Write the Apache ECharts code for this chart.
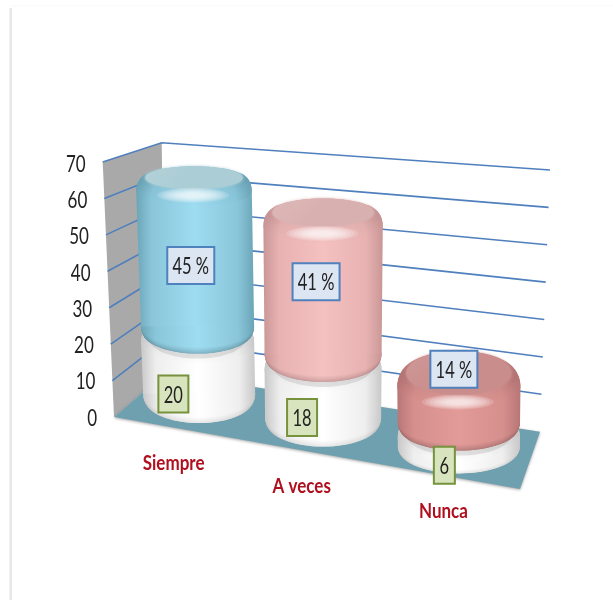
<!DOCTYPE html>
<html>
<head>
<meta charset="utf-8">
<style>html,body{margin:0;padding:0;background:#fff}#chart{width:613px;height:602px}</style>
<script src="https://cdn.jsdelivr.net/npm/echarts@6/dist/echarts.min.js"></script>
</head>
<body>
<div id="chart"></div>
<script>
// Survey answers: a white count cylinder with a coloured percentage cylinder on top.
const categories = ['Siempre', 'A veces', 'Nunca'];
const countValues = [20, 18, 6];
const percentValues = [45, 41, 14];
const axisTicks = [0, 10, 20, 30, 40, 50, 60, 70];

// Perspective box of the chart, in page pixels.
const GRID = { left: 114, top: 163, width: 406, height: 254 };
const FLOOR = [[114, 417], [520, 489], [540, 431.7], [165, 373]];
const FRONT_LEFT_TOP = [102.7, 162];
const BACK_LEFT_TOP = [161.7, 142.7];
const BACK_RIGHT_TOP = [550, 170];

// Per-cylinder drawing settings: foreshortening, lean, radius, base nudge, ellipse taper,
// top-face flattening and where the rim highlight sits.
const CYL = [
  { k: 0.928, lean: -0.08, a: 56, nudge: [1, -2], bk: 0.108, face: 0.82, glint: -4 },
  { k: 0.97, lean: 0, a: 58, nudge: [1.5, 1], bk: 0.07, face: 0.85, glint: -3.4 },
  { k: 1.015, lean: 0, a: 61, nudge: [1.5, 5], bk: 0.1, face: 1.2, glint: 2.5 }
];
const WHITE = { edge: '#c8c8c8', soft: '#eeeeee', mid: '#ffffff', face: '#f4f4f4', low: 0.1 };
const PALETTES = [
  { edge: '#6ba4b7', soft: '#8ac6da', mid: '#9edcf1', face: '#abcdd5', low: 0.2 },
  { edge: '#c99696', soft: '#e8b2b2', mid: '#f5c0c0', face: '#d9b0b0', low: 0.18 },
  { edge: '#b87676', soft: '#d58f8d', mid: '#e39b99', face: '#c98d8b', low: 0.2 }
];
// Label box offsets from each cylinder's mid-height, and their widths.
const COUNT_BOX = [{ dx: -25, dy: 26, w: 30 }, { dx: -21, dy: 24, w: 30 }, { dx: -14.5, dy: 24.5, w: 21 }];
const PCT_BOX = [{ dx: -5, dy: 7, w: 47 }, { dx: -7, dy: -8, w: 47 }, { dx: -5, dy: -34.6, w: 47 }];
const TEXT_FONT = 'Lato, "Open Sans", sans-serif';

// Unit square to floor quad homography.
function makeHomography(q) {
  const [x0, y0] = q[0], [x1, y1] = q[1], [x2, y2] = q[2], [x3, y3] = q[3];
  const dx1 = x1 - x2, dx2 = x3 - x2, sx = x0 - x1 + x2 - x3;
  const dy1 = y1 - y2, dy2 = y3 - y2, sy = y0 - y1 + y2 - y3;
  const det = dx1 * dy2 - dx2 * dy1;
  const g = (sx * dy2 - dx2 * sy) / det, h = (dx1 * sy - sx * dy1) / det;
  const a = x1 - x0 + g * x1, b = x3 - x0 + h * x3;
  const d = y1 - y0 + g * y1, e = y3 - y0 + h * y3;
  return (u, v) => {
    const w = g * u + h * v + 1;
    return [(a * u + b * v + x0) / w, (d * u + e * v + y0) / w];
  };
}
const floorPoint = makeHomography(FLOOR);
const lerp = (p, q, t) => [p[0] + (q[0] - p[0]) * t, p[1] + (q[1] - p[1]) * t];

function mix(hex, target, f) {
  const n = parseInt(hex.slice(1), 16);
  const c = [(n >> 16) & 255, (n >> 8) & 255, n & 255];
  return 'rgb(' + c.map(v => Math.round(v + (target - v) * f)).join(',') + ')';
}
function sideFill(p, shade) {
  const s = c => shade < 0 ? mix(c, 0, -shade) : mix(c, 255, shade);
  return {
    type: 'linear', x: 0, y: 0, x2: 1, y2: 0,
    colorStops: [
      { offset: 0, color: s(p.edge) }, { offset: 0.13, color: s(p.soft) },
      { offset: 0.5, color: s(p.mid) }, { offset: 0.86, color: s(p.soft) },
      { offset: 1, color: s(p.edge) }
    ]
  };
}
function ellipse(cx, cy, rx, ry, fill, extra) {
  return { type: 'ellipse', shape: { cx, cy, rx, ry }, style: Object.assign({ fill }, extra || {}) };
}

// Centre of a cylinder's cross-section at a given value.
function cylinderCentre(api, params, i, value) {
  const rect = params.coordSys;
  const p0 = api.coord([i, 0]), pv = api.coord([i, value]);
  const base = floorPoint((p0[0] - rect.x) / rect.width, 0.5);
  const c = CYL[i];
  return [base[0] + c.nudge[0] + c.lean * value, base[1] + c.nudge[1] - (p0[1] - pv[1]) * c.k];
}
function radii(i, value) {
  const c = CYL[i];
  return { a: c.a * (1 + value * 0.0005), b: 23.5 - c.bk * value };
}

// A round-edged cylinder between two values, built from stacked elliptical slices.
function drawCylinder(api, params, i, from, to, pal, rimShade) {
  const c0 = cylinderCentre(api, params, i, from), c1 = cylinderCentre(api, params, i, to);
  const r0 = radii(i, from), r1 = radii(i, to), cfg = CYL[i];
  const kids = [];
  const rb = 9, vb = Math.min(8, (c0[1] - c1[1]) * 0.25), N = 8;
  for (let k = 0; k <= N; k++) {
    const h = k / N, inset = rb * (1 - Math.sqrt(1 - (1 - h) * (1 - h))) * 0.6;
    const rx = r0.a - inset;
    kids.push(ellipse(c0[0], c0[1] - vb * h, rx, r0.b * rx / r0.a, sideFill(pal, -pal.low * (1 - h))));
  }
  const yb = c0[1] - vb, yt = c1[1] + 8;
  kids.push({
    type: 'polygon',
    shape: { points: [[c0[0] - r0.a, yb], [c1[0] - r1.a, yt], [c1[0] + r1.a, yt], [c0[0] + r0.a, yb]] },
    style: { fill: sideFill(pal, 0) }
  });
  for (let k = 0; k <= N; k++) {
    const h = k / N, inset = rb * (1 - Math.sqrt(1 - h * h));
    const rx = r1.a - inset;
    kids.push(ellipse(c1[0], yt - 13 * h, rx, r1.b * rx / r1.a * (1 - (1 - cfg.face) * h), sideFill(pal, rimShade * h)));
  }
  const faceX = r1.a - rb, faceY = c1[1] - 5, faceR = r1.b * faceX / r1.a * cfg.face;
  kids.push(ellipse(c1[0], faceY, faceX, faceR, {
    type: 'linear', x: 0, y: 0, x2: 0.3, y2: 1,
    colorStops: [{ offset: 0, color: mix(pal.face, 255, 0.1) }, { offset: 1, color: pal.face }]
  }, { shadowBlur: 3, shadowColor: pal.face }));
  // Soft glint on the front of the rim, from nested translucent ellipses.
  const gy = c1[1] + r1.b + cfg.glint;
  for (let k = 0; k < 7; k++) {
    const s = 1 - k / 7;
    kids.push(ellipse(c1[0] - 1, gy, 10 + 26 * s, 1.5 + 6 * s, 'rgba(255,255,255,0.17)'));
  }
  return kids;
}

const option = {
  animation: false,
  backgroundColor: '#ffffff',
  graphic: [
    { type: 'rect', shape: { x: 9.5, y: 8, width: 2.5, height: 592 }, style: { fill: '#e7e7e7' }, silent: true },
    { type: 'rect', shape: { x: 11, y: 5, width: 602, height: 1.5 }, style: { fill: '#fbfbfb' }, silent: true }
  ],
  grid: { left: GRID.left, top: GRID.top, width: GRID.width, height: GRID.height },
  xAxis: { type: 'category', data: categories, show: false },
  yAxis: { type: 'value', min: 0, max: 70, interval: 10, show: false },
  series: [
    // Left wall and floor of the box.
    {
      type: 'custom', coordinateSystem: 'cartesian2d', z: 1, silent: true, clip: false,
      data: [[0, 0]],
      renderItem() {
        return {
          type: 'group',
          children: [
            { type: 'polygon', shape: { points: [FLOOR[0], FRONT_LEFT_TOP, BACK_LEFT_TOP, FLOOR[3]] },
              style: { fill: '#a9a9a9' } },
            { type: 'polygon', shape: { points: FLOOR },
              style: { fill: '#6fa0af', shadowBlur: 3, shadowColor: 'rgba(0,0,0,0.35)', shadowOffsetY: 1 } }
          ]
        };
      }
    },
    // Gridlines running along the left wall and back wall.
    {
      type: 'custom', coordinateSystem: 'cartesian2d', z: 2, silent: true, clip: false,
      data: axisTicks.filter(v => v > 0).map(v => [0, v]),
      renderItem(params, api) {
        const rect = params.coordSys;
        const t = (rect.y + rect.height - api.coord([0, api.value(1)])[1]) / rect.height;
        const a = lerp(FLOOR[0], FRONT_LEFT_TOP, t);
        const b = lerp(FLOOR[3], BACK_LEFT_TOP, t);
        const c = lerp(FLOOR[2], BACK_RIGHT_TOP, t);
        return {
          type: 'polyline', shape: { points: [a, b, c] },
          style: { fill: null, stroke: '#4f7fbd', lineWidth: 1.6 }
        };
      }
    },
    // Value axis numbers, set along the slanted front edge of the wall.
    {
      type: 'custom', coordinateSystem: 'cartesian2d', z: 3, silent: true, clip: false,
      data: axisTicks.map(v => [0, v]),
      renderItem(params, api) {
        const rect = params.coordSys;
        const y = api.coord([0, api.value(1)])[1];
        const t = (rect.y + rect.height - y) / rect.height;
        const p = lerp(FLOOR[0], FRONT_LEFT_TOP, t);
        return {
          type: 'text', x: p[0] - 17, y: y + 1, scaleY: 1.4,
          style: {
            text: String(api.value(1)), align: 'right', verticalAlign: 'middle',
            font: '17px ' + TEXT_FONT, fill: '#222222'
          }
        };
      }
    },
    // White count cylinders.
    {
      type: 'custom', name: 'Count', coordinateSystem: 'cartesian2d', z: 4, silent: true, clip: false,
      data: countValues.map((v, i) => [i, v]),
      renderItem(params, api) {
        const i = api.value(0);
        return { type: 'group', children: drawCylinder(api, params, i, 0, api.value(1), WHITE, 0) };
      }
    },
    // Coloured percentage cylinders stacked on the white ones.
    {
      type: 'custom', name: 'Percent', coordinateSystem: 'cartesian2d', z: 5, silent: true, clip: false,
      data: percentValues.map((v, i) => [i, countValues[i], countValues[i] + v]),
      renderItem(params, api) {
        const i = api.value(0), from = api.value(1), to = api.value(2);
        const c0 = cylinderCentre(api, params, i, from), r0 = radii(i, from);
        const shadow = ellipse(c0[0], c0[1] + 4, r0.a - 8, r0.b - 1, 'rgba(70,70,70,0.14)', {
          shadowBlur: 9, shadowColor: 'rgba(50,50,50,0.28)'
        });
        return {
          type: 'group',
          children: [shadow].concat(drawCylinder(api, params, i, from, to, PALETTES[i], -0.03))
        };
      }
    },
    // Category names below the front edge of the floor.
    {
      type: 'custom', coordinateSystem: 'cartesian2d', z: 6, silent: true, clip: false,
      data: categories.map((c, i) => [i, 0]),
      renderItem(params, api) {
        const i = api.value(0), rect = params.coordSys;
        const p = floorPoint((api.coord([i, 0])[0] - rect.x) / rect.width, 0);
        return {
          type: 'text', x: p[0], y: p[1] + 36, scaleY: 1.2,
          style: {
            text: categories[i], align: 'center', verticalAlign: 'middle',
            font: 'bold 17px ' + TEXT_FONT, fill: '#b00f1e'
          }
        };
      }
    },
    // Boxed value labels.
    {
      type: 'custom', coordinateSystem: 'cartesian2d', z: 7, silent: true, clip: false,
      data: categories.map((c, i) => [i, countValues[i], percentValues[i]]),
      renderItem(params, api) {
        const i = api.value(0), n = api.value(1), pct = api.value(2);
        const box = (cfg, value, text, fill, stroke) => {
          const c = cylinderCentre(api, params, i, value);
          const x = c[0] + cfg.dx, y = c[1] + cfg.dy;
          return [
            { type: 'rect', shape: { x: x - cfg.w / 2, y: y - 18.5, width: cfg.w, height: 37 },
              style: { fill, stroke, lineWidth: 2 } },
            { type: 'text', x, y: y + 1, scaleY: 1.42,
              style: { text, align: 'center', verticalAlign: 'middle', font: '16.5px ' + TEXT_FONT, fill: '#222222' } }
          ];
        };
        return {
          type: 'group',
          children: box(COUNT_BOX[i], n / 2, String(n), '#d7e4bd', '#76923c')
            .concat(box(PCT_BOX[i], n + pct / 2, pct + ' %', '#dce6f2', '#4f81bd'))
        };
      }
    }
  ]
};

const chart = echarts.init(document.getElementById('chart'), null, { renderer: 'canvas' });
chart.setOption(option);
</script>
</body>
</html>
